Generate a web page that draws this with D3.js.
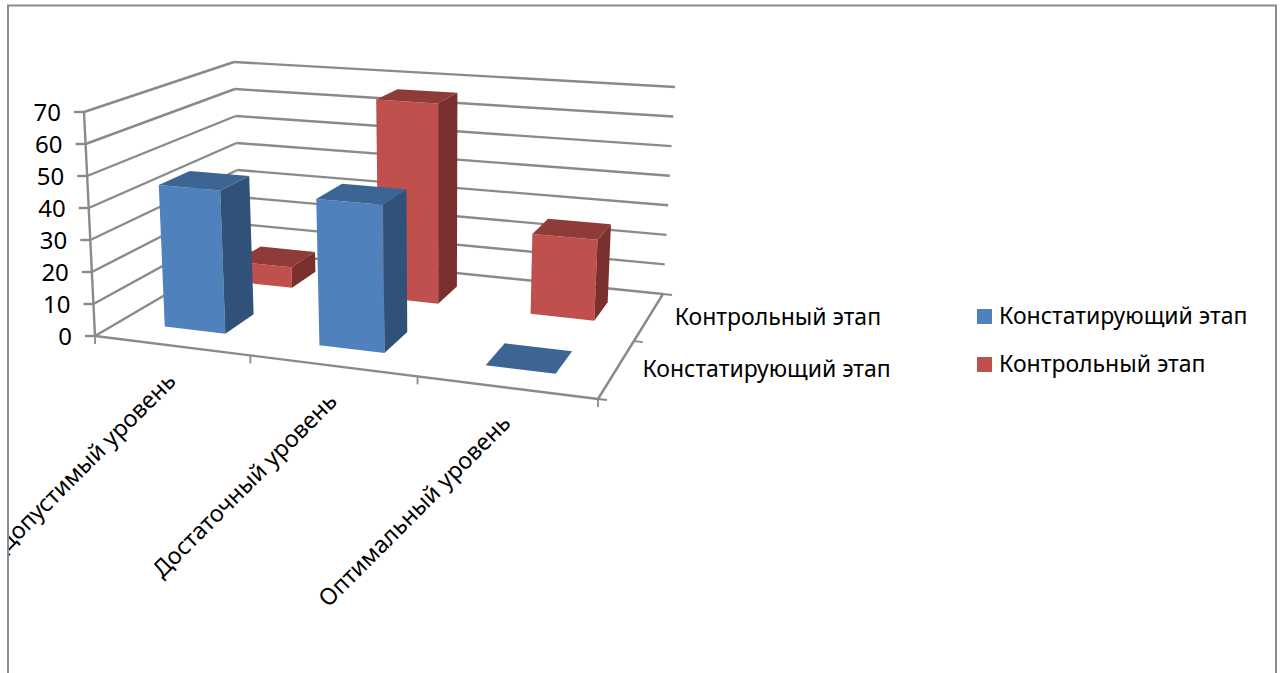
<!DOCTYPE html>
<html lang="ru">
<head>
<meta charset="UTF-8">
<script src="https://d3js.org/d3.v7.min.js"></script>
<style>
  html, body { margin: 0; padding: 0; background: #fff; }
  svg { display: block; }
  text { font-family: "Noto Sans", sans-serif; fill: #000; }
</style>
</head>
<body>
<svg width="1281" height="673"></svg>
<script>
// chart data
var categories = ["Допустимый уровень", "Достаточный уровень", "Оптимальный уровень"];
var seriesNames = ["Констатирующий этап", "Контрольный этап"];
var konstatValues = [45, 45, 0];
var kontrolValues = [7, 66.5, 26];
var seriesColors = ["#4F81BD", "#C0504D"];
var topColors = ["#3D6594", "#8F3B39"];
var sideColors = ["#305279", "#7A302E"];
var valueTicks = [0, 10, 20, 30, 40, 50, 60, 70];

var svg = d3.select("svg");

// 3d box corners on screen (front-left, front-right, back-right, back-left)
var floorQuad = [[95, 336], [598, 399], [663, 294], [240, 251]];
var ceilQuad = [[84, 112], [610, 151], [675, 87], [234, 62]];

// unit square -> quad, plain projective mapping
function quadMap(q) {
  var dx1 = q[1][0] - q[2][0], dx2 = q[3][0] - q[2][0], sx = q[0][0] - q[1][0] + q[2][0] - q[3][0];
  var dy1 = q[1][1] - q[2][1], dy2 = q[3][1] - q[2][1], sy = q[0][1] - q[1][1] + q[2][1] - q[3][1];
  var det = dx1 * dy2 - dx2 * dy1;
  var g = (sx * dy2 - dx2 * sy) / det, h = (dx1 * sy - sx * dy1) / det;
  var a = q[1][0] - q[0][0] + g * q[1][0], b = q[3][0] - q[0][0] + h * q[3][0];
  var d = q[1][1] - q[0][1] + g * q[1][1], e = q[3][1] - q[0][1] + h * q[3][1];
  return function(u, v) {
    var w = g * u + h * v + 1;
    return [(a * u + b * v + q[0][0]) / w, (d * u + e * v + q[0][1]) / w];
  };
}
var floorMap = quadMap(floorQuad), ceilMap = quadMap(ceilQuad);

// scales: all three run 0..1 inside the box
var xScale = d3.scaleBand().domain(categories).range([0, 1]);
var zScale = d3.scaleBand().domain(seriesNames).range([0, 1]);
var yScale = d3.scaleLinear().domain([0, 70]).range([0, 1]);

function project(u, v, w) {
  var a = floorMap(u, v), b = ceilMap(u, v);
  return [a[0] + (b[0] - a[0]) * w, a[1] + (b[1] - a[1]) * w];
}
function pathOf(pts) { return "M" + pts.map(function(p) { return p[0] + "," + p[1]; }).join("L") + "Z"; }

var chart = svg.append("g").attr("clip-path", "url(#frameClip)");
svg.append("clipPath").attr("id", "frameClip").append("rect")
  .attr("x", 9).attr("y", 6).attr("width", 1266).attr("height", 667);

var gridColor = "#8a8a8a";
function seg(a, b, w) {
  chart.append("line")
    .attr("x1", a[0]).attr("y1", a[1]).attr("x2", b[0]).attr("y2", b[1])
    .attr("stroke", gridColor).attr("stroke-width", w || 2.4);
}

// walls
valueTicks.forEach(function(t) {
  var w = yScale(t);
  var fl = project(0, 0, w), bl = project(0, 1, w), br = project(1, 1, w);
  seg(fl, bl);
  seg(bl, br);
  seg([fl[0] - 10, fl[1]], fl);
  chart.append("text")
    .attr("x", fl[0] - 23).attr("y", fl[1] + 3)
    .attr("text-anchor", "end").attr("dominant-baseline", "middle")
    .attr("font-size", 24).text(t);
});
seg(project(0, 0, 0), project(0, 0, 1));

// floor edges
seg(project(0, 0, 0), project(1, 0, 0));
seg(project(1, 0, 0), project(1, 1, 0));

// category ticks and labels
d3.range(categories.length + 1).forEach(function(i) {
  var p = project(i / categories.length, 0, 0);
  seg(p, [p[0], p[1] + 8], 1.8);
});
categories.forEach(function(c) {
  var p = project(xScale(c) + xScale.bandwidth() / 2, 0, 0);
  chart.append("text")
    .attr("transform", "translate(" + (p[0] + 6) + "," + (p[1] + 37) + ") rotate(-45)")
    .attr("text-anchor", "end").attr("font-size", 23.3).text(c);
});

// depth axis ticks and labels
d3.range(seriesNames.length + 1).forEach(function(i) {
  var p = project(1, i / seriesNames.length, 0);
  seg(p, [p[0] + 9, p[1] + 1], 1.8);
});
seriesNames.forEach(function(s) {
  var p = project(1, zScale(s) + zScale.bandwidth() / 2, 0);
  chart.append("text")
    .attr("x", p[0] + 25.5).attr("y", p[1] + 2)
    .attr("dominant-baseline", "middle").attr("font-size", 23).text(s);
});

// bars, back series first
var allValues = [konstatValues, kontrolValues];
function drawBar(s, i) {
  var bw = xScale.bandwidth() * 0.4, bd = zScale.bandwidth() * 0.4;
  var u0 = xScale(categories[i]) + xScale.bandwidth() * 0.3, u1 = u0 + bw;
  var v0 = zScale(seriesNames[s]) + zScale.bandwidth() * 0.3, v1 = v0 + bd;
  var w = yScale(allValues[s][i]);
  if (w > 0) {
    chart.append("path").attr("fill", seriesColors[s])
      .attr("d", pathOf([project(u0, v0, 0), project(u1, v0, 0), project(u1, v0, w), project(u0, v0, w)]));
    chart.append("path").attr("fill", sideColors[s])
      .attr("d", pathOf([project(u1, v0, 0), project(u1, v1, 0), project(u1, v1, w), project(u1, v0, w)]));
  }
  chart.append("path").attr("fill", topColors[s])
    .attr("d", pathOf([project(u0, v0, w), project(u1, v0, w), project(u1, v1, w), project(u0, v1, w)]));
}
[1, 0].forEach(function(s) {
  categories.forEach(function(c, i) { drawBar(s, i); });
});

// legend
var legend = svg.append("g");
seriesNames.forEach(function(s, i) {
  var y = 324 + i * 48;
  legend.append("rect").attr("x", 977).attr("y", y - 15).attr("width", 15).attr("height", 15)
    .attr("fill", seriesColors[i]);
  legend.append("text").attr("x", 999).attr("y", y)
    .attr("font-size", 23).text(s);
});

// outer frame, runs off the bottom of the page
svg.append("path")
  .attr("d", "M8,673V5.5H1276V673")
  .attr("fill", "none").attr("stroke", "#8c8c8c").attr("stroke-width", 2);
</script>
</body>
</html>
